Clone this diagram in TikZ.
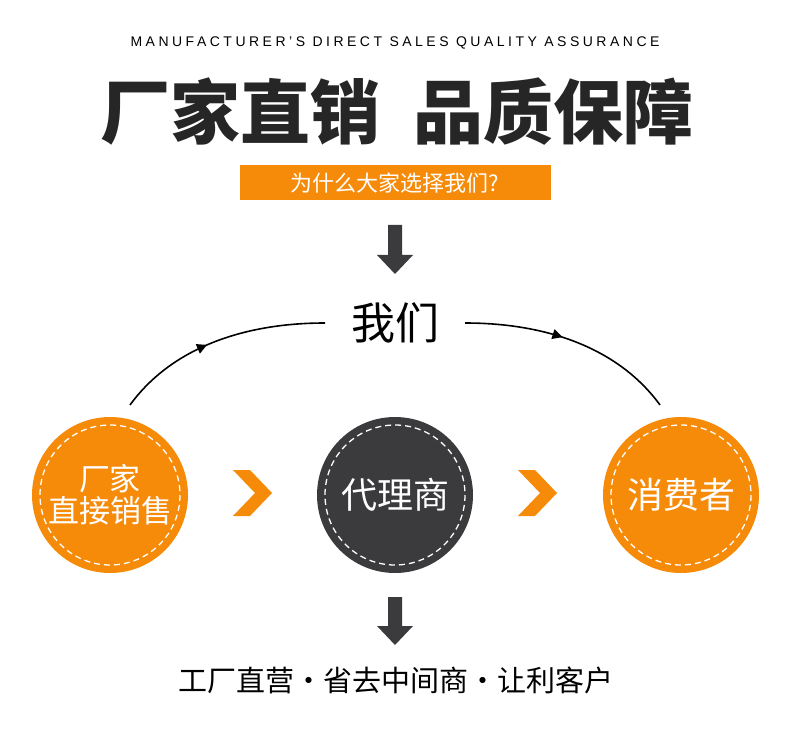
\documentclass[tikz,border=0pt]{standalone}
\usepackage{fontspec}
\setmainfont{Liberation Sans}
\newfontfamily\cjk{Noto Sans CJK SC}
\newfontfamily\cjkb{Noto Sans CJK SC Black}
\usetikzlibrary{decorations.markings,arrows.meta}
\definecolor{org}{HTML}{F68B0A}
\definecolor{drk}{HTML}{3B3B3E}
\begin{document}
\begin{tikzpicture}[x=1pt,y=-1pt,
  circ/.style={circle,minimum size=156pt,inner sep=0pt,text=white,font=\cjk\fontsize{36}{40}\selectfont,align=center},
  dashring/.style={white,line width=1.3pt,dash pattern=on 6pt off 4pt},
  dnarrow/.style={fill=drk},
  chev/.style={fill=org},
  arc/.style={black,line width=1.6pt,postaction={decorate},decoration={markings,mark=at position 0.45 with {\arrow{Triangle[length=10pt,width=10pt]}}}}]
\useasboundingbox (0,0) rectangle (790,730);
\fill[white] (0,0) rectangle (790,730);
\node (top) at (395,43) {\fontsize{14}{16}\selectfont\addfontfeature{LetterSpace=25}MANUFACTURER'S DIRECT SALES QUALITY ASSURANCE};
\node[text=black!85] (title) at (397,112) {\cjkb\fontsize{70}{76}\selectfont 厂家直销\hspace{34pt}品质保障};
\node[fill=org,minimum width=311pt,minimum height=35pt,text=white,font=\cjk\fontsize{22}{24}\selectfont] (q) at (395,183) {为什么大家选择我们?};
\fill[dnarrow] (388,225) -- (402,225) -- (402,255) -- (413,255) -- (395,274) -- (377,255) -- (388,255) -- cycle;
\node[font=\cjk\fontsize{44}{48}\selectfont] (we) at (395,323) {我们};
\node[circ,fill=org,font=\cjk\fontsize{31}{34}\selectfont] (a) at (110,495) {厂家\\[-2pt]直接销售};
\node[circ,fill=drk] (b) at (395,495) {代理商};
\node[circ,fill=org] (c) at (681,495) {消费者};
\foreach \n in {a,b,c} \draw[dashring] (\n) circle (70);
\coordinate (l1) at (130,405); \coordinate (l2) at (325,323);
\coordinate (r1) at (465,323); \coordinate (r2) at (660,405);
\draw[arc] (l1) .. controls (170,350) and (240,323) .. (l2);
\draw[arc] (r1) .. controls (550,323) and (620,350) .. (r2);
\fill[chev] (233,470) -- (250,470) -- (272,493) -- (250,516) -- (233,516) -- (255,493) -- cycle;
\fill[chev] (518,470) -- (535,470) -- (557,493) -- (535,516) -- (518,516) -- (540,493) -- cycle;
\fill[dnarrow] (388,597) -- (402,597) -- (402,626) -- (413,626) -- (395,645) -- (377,626) -- (388,626) -- cycle;
\node[font=\cjk\fontsize{29}{32}\selectfont] (bot) at (396,680) {工厂直营·省去中间商·让利客户};
\end{tikzpicture}
\end{document}
